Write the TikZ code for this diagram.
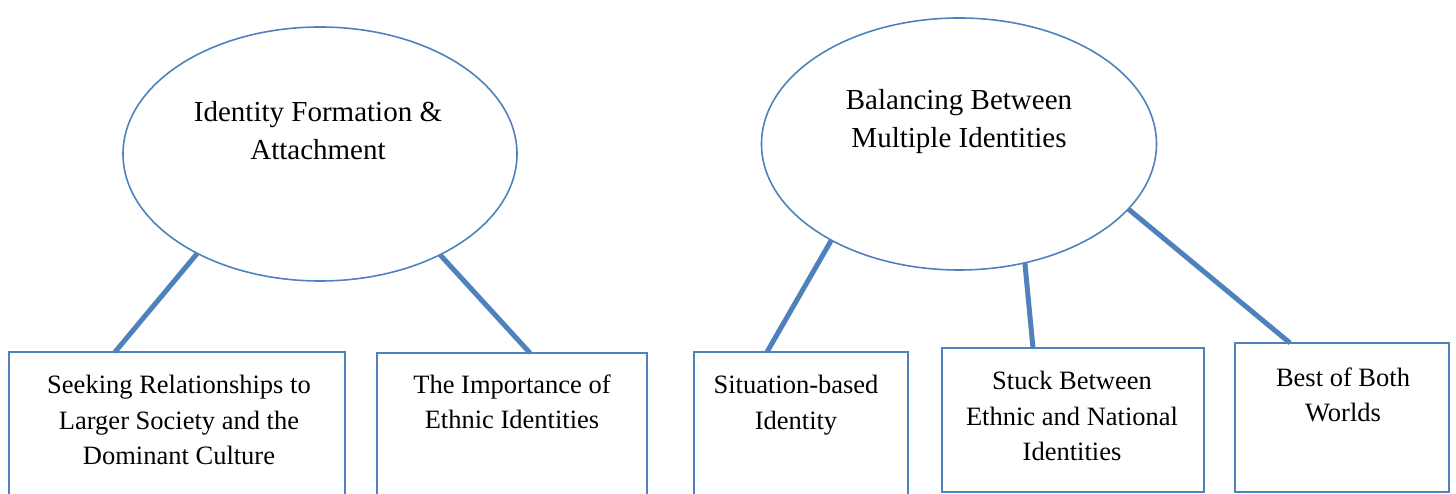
\documentclass[tikz,border=0pt]{standalone}
\usepackage{fontspec}
\setmainfont{Liberation Serif}
\usetikzlibrary{shapes.geometric}
\definecolor{ofblue}{HTML}{4F81BD}
\begin{document}
\begin{tikzpicture}[x=1pt,y=1pt,
  oval/.style={ellipse, draw=ofblue, line width=1.6pt, inner sep=0pt, outer sep=0pt},
  tbox/.style={rectangle, draw=ofblue, line width=1.6pt, inner sep=0pt, outer sep=0pt, anchor=north west},
  link/.style={draw=ofblue, line width=5pt},
  otext/.style={align=center, font=\fontsize{29}{38}\selectfont},
  btext/.style={align=center, font=\fontsize{26.5}{35.5}\selectfont}]
\useasboundingbox (0,0) rectangle (1456,494);
\clip (0,0) rectangle (1456,494);
% ellipses
\node[oval, minimum width=394, minimum height=254] (e1) at (320,340) {};
\node[oval, minimum width=395, minimum height=252] (e2) at (959,350) {};
\node[otext] (t1) at (318,363) {Identity Formation \&\\Attachment};
\node[otext] (t2) at (959,372) {Balancing Between\\Multiple Identities};
% boxes
\node[tbox, minimum width=336, minimum height=163] (b1) at (9,142) {};
\node[tbox, minimum width=270, minimum height=163] (b2) at (377,141) {};
\node[tbox, minimum width=214, minimum height=163] (b3) at (694,142) {};
\node[tbox, minimum width=262, minimum height=144] (b4) at (942,146) {};
\node[tbox, minimum width=214, minimum height=149] (b5) at (1235,151) {};
\node[btext] (s1) at (179,74) {Seeking Relationships to\\Larger Society and the\\Dominant Culture};
\node[btext] (s2) at (512,92) {The Importance of\\Ethnic Identities};
\node[btext] (s3) at (796,89) {Situation-based\\Identity};
\node[btext] (s4) at (1072,78) {Stuck Between\\Ethnic and National\\Identities};
\node[btext] (s5) at (1343,99) {Best of Both\\Worlds};
% connectors
\draw[link] (e1.219) -- ([xshift=106]b1.north west);
\draw[link] (e1.320) -- ([xshift=153]b2.north west);
\draw[link] (e2.217) -- ([xshift=73]b3.north west);
\draw[link] (e2.299) -- ([xshift=91]b4.north west);
\draw[link] (e2.339) -- ([xshift=55]b5.north west);
\end{tikzpicture}
\end{document}
